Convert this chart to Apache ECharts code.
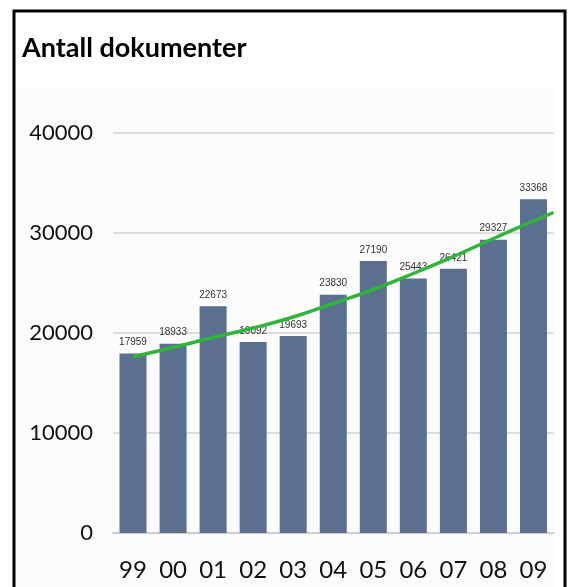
<!DOCTYPE html>
<html>
<head>
<meta charset="utf-8">
<script src="https://cdn.jsdelivr.net/npm/echarts@6/dist/echarts.min.js"></script>
<style>
html,body{margin:0;padding:0;background:#fff;}
#chart{width:571px;height:587px;}
</style>
</head>
<body>
<div id="chart"></div>
<script>
const categories = ['99','00','01','02','03','04','05','06','07','08','09'];
const documents = [17959, 18933, 22673, 19092, 19693, 23830, 27190, 25443, 26421, 29327, 33368];
const trendValues = [17630, 18550, 19550, 20500, 21600, 22950, 24350, 25950, 27650, 29450, 31200];
const trendEnd = 32050;
const yTicks = [0, 10000, 20000, 30000, 40000];

const trendData = trendValues.map((v, i) => [i, v]);
trendData.push([categories.length - 0.5, trendEnd]);

const chart = echarts.init(document.getElementById('chart'), null, {renderer: 'canvas'});
chart.setOption({
  backgroundColor: '#ffffff',
  animation: false,
  graphic: [
    {type: 'rect', z: -10, shape: {x: 16, y: 88, width: 540, height: 520}, style: {fill: '#fcfcfc'}},
    {type: 'rect', z: 100, shape: {x: 14, y: 11, width: 551, height: 600}, style: {fill: 'none', stroke: '#000', lineWidth: 3}},
    {type: 'text', z: 100, left: 22, top: 35, style: {text: 'Antall dokumenter', fontFamily: 'Lato', fontWeight: 'bold', fontSize: 27, fill: '#000'}}
  ],
  grid: {left: 113, right: 17.5, top: 133, bottom: 54, containLabel: false},
  xAxis: [
    {
      type: 'category', data: categories, boundaryGap: true,
      axisLine: {show: true, lineStyle: {color: '#cfcfcf', width: 2}},
      axisTick: {show: false},
      axisLabel: {color: '#111', fontFamily: 'Lato', fontSize: 24, margin: 25}
    },
    {type: 'value', min: -0.5, max: categories.length - 0.5, show: false}
  ],
  yAxis: {
    type: 'value', min: yTicks[0], max: yTicks[yTicks.length - 1], interval: 10000,
    axisLine: {show: false}, axisTick: {show: false},
    splitLine: {lineStyle: {color: '#dddddd', width: 2}},
    axisLabel: {color: '#111', fontFamily: 'Lato', fontSize: 22, margin: 20, formatter: v => String(v)}
  },
  series: [
    {
      type: 'bar', data: documents, xAxisIndex: 0, z: 2,
      barWidth: 27,
      itemStyle: {color: '#5b7090'},
      label: {show: true, position: 'top', distance: 6, color: '#333', fontSize: 10, fontFamily: 'Liberation Sans Narrow, Liberation Sans'}
    },
    {
      type: 'line', data: trendData, xAxisIndex: 1, z: 5, smooth: true,
      symbol: 'none', clip: true,
      lineStyle: {color: '#2fb53a', width: 3.5}
    }
  ]
});
</script>
</body>
</html>
